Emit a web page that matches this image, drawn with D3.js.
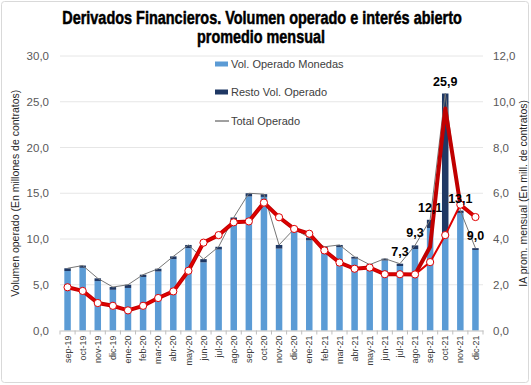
<!DOCTYPE html>
<html>
<head>
<meta charset="utf-8">
<script src="https://cdn.jsdelivr.net/npm/d3@7"></script>
<style>
  body { margin: 0; background: #fff; }
  text { font-family: "Liberation Sans", Arial, sans-serif; }
</style>
</head>
<body>
<div id="viz"></div>
<script>
// months, sep-19 .. dic-21
var months = ["sep-19","oct-19","nov-19","dic-19","ene-20","feb-20","mar-20","abr-20","may-20","jun-20","jul-20","ago-20",
  "sep-20","oct-20","nov-20","dic-20","ene-21","feb-21","mar-21","abr-21","may-21","jun-21","jul-21","ago-21",
  "sep-21","oct-21","nov-21","dic-21"];

// millions of contracts
var volMonedas = [6.5,6.85,5.4,4.45,4.65,5.85,6.45,7.8,9.0,7.45,8.85,12.0,
  14.65,14.6,8.95,10.8,9.85,8.9,9.1,7.85,7.0,7.65,7.05,8.9,
  11.2,10.3,12.85,8.8];
var restoVol = [0.3,0.25,0.3,0.3,0.35,0.25,0.3,0.3,0.35,0.35,0.3,0.35,
  0.35,0.3,0.4,0.3,0.3,0.25,0.25,0.2,0.2,0.2,0.25,0.4,
  0.9,15.6,0.25,0.2];

// interes abierto, mill. de contratos
var iaProm = [1.89,1.73,1.2,1.08,0.88,1.08,1.42,1.71,2.61,3.84,4.17,4.73,
  4.77,5.59,4.95,4.44,4.23,3.5,2.97,2.7,2.75,2.46,2.46,2.45,
  3.66,9.7,5.5,4.96];
var iaMarcado = [1.89,1.73,1.2,1.08,0.88,1.08,1.42,1.71,2.61,3.84,4.17,4.73,
  4.77,5.59,4.95,4.44,4.23,3.5,2.97,2.7,2.75,2.46,2.46,2.45,
  2.99,4.17,5.5,4.96];

var leftTicks = [0,5,10,15,20,25,30];
var rightTicks = [0,2,4,6,8,10,12];
var labeled = ["jul-21","ago-21","sep-21","oct-21","nov-21","dic-21"];

var width = 531, height = 385;
var x0 = 60, x1 = 483, yb = 330.5, yt = 56;

var total = volMonedas.map(function(v, i) { return v + restoVol[i]; });

var svg = d3.select("#viz").append("svg")
  .attr("width", width)
  .attr("height", height);

svg.append("rect")
  .attr("x", 1.5).attr("y", 1.5)
  .attr("width", width - 4).attr("height", height - 4)
  .attr("rx", 3)
  .attr("fill", "#fff")
  .attr("stroke", "#d9d9d9");

var x = d3.scaleBand().domain(months).range([x0, x1]);
var yL = d3.scaleLinear().domain([0, 30]).range([yb, yt]);
var yR = d3.scaleLinear().domain([0, 12]).range([yb, yt]);

function fmt(v) { return d3.format(".1f")(v).replace(".", ","); }

// gridlines
svg.append("g").selectAll("line")
  .data(leftTicks.slice(1))
  .enter().append("line")
    .attr("x1", x0).attr("x2", x1)
    .attr("y1", function(d) { return yL(d); })
    .attr("y2", function(d) { return yL(d); })
    .attr("stroke", "#e6e6e6")
    .attr("stroke-width", 1);

// left axis
var axL = svg.append("g")
  .attr("transform", "translate(" + x0 + ",0)")
  .call(d3.axisLeft(yL).tickValues(leftTicks).tickFormat(fmt).tickSize(0).tickPadding(11));
axL.select(".domain").remove();
axL.selectAll("text").attr("font-size", 11.5).attr("fill", "#595959")
  .attr("font-family", "Liberation Sans, Arial, sans-serif");

// right axis
var axR = svg.append("g")
  .attr("transform", "translate(" + x1 + ",0)")
  .call(d3.axisRight(yR).tickValues(rightTicks).tickFormat(fmt).tickSize(0).tickPadding(10));
axR.select(".domain").remove();
axR.selectAll("text").attr("font-size", 11.5).attr("fill", "#595959")
  .attr("font-family", "Liberation Sans, Arial, sans-serif");

// bars
var bw = 6.5;
var bars = svg.append("g");
bars.selectAll("rect.mon")
  .data(months)
  .enter().append("rect")
    .attr("class", "mon")
    .attr("x", function(d) { return x(d) + x.bandwidth() / 2 - bw / 2; })
    .attr("width", bw)
    .attr("y", function(d, i) { return yL(volMonedas[i]); })
    .attr("height", function(d, i) { return yb - yL(volMonedas[i]); })
    .attr("fill", "#5b9bd5");
bars.selectAll("rect.resto")
  .data(months)
  .enter().append("rect")
    .attr("class", "resto")
    .attr("x", function(d) { return x(d) + x.bandwidth() / 2 - bw / 2; })
    .attr("width", bw)
    .attr("y", function(d, i) { return yL(total[i]); })
    .attr("height", function(d, i) { return yL(volMonedas[i]) - yL(total[i]); })
    .attr("fill", "#1f3864");

// bottom axis
var axB = svg.append("g")
  .attr("transform", "translate(0," + yb + ")")
  .call(d3.axisBottom(x).tickSize(0).tickPadding(0));
axB.select(".domain").attr("stroke", "#bfbfbf");
axB.selectAll(".tick text")
  .attr("transform", "rotate(-90)")
  .attr("text-anchor", "end")
  .attr("x", -5).attr("y", 0).attr("dy", "0.35em")
  .attr("font-size", 9).attr("fill", "#404040")
  .attr("font-family", "Liberation Sans, Arial, sans-serif");
svg.append("g").selectAll("line")
  .data(months.concat(["end"]))
  .enter().append("line")
    .attr("x1", function(d, i) { return x0 + i * x.step(); })
    .attr("x2", function(d, i) { return x0 + i * x.step(); })
    .attr("y1", yb).attr("y2", yb + 4)
    .attr("stroke", "#bfbfbf");

// total operado line
var cx = function(d, i) { return x(months[i]) + x.bandwidth() / 2; };
svg.append("path")
  .datum(total)
  .attr("fill", "none")
  .attr("stroke", "#767676")
  .attr("stroke-width", 1)
  .attr("d", d3.line().x(cx).y(function(d) { return yL(d); }));

// IA lines
svg.append("path")
  .datum(iaProm)
  .attr("fill", "none")
  .attr("stroke", "#c00000")
  .attr("stroke-width", 4)
  .attr("stroke-linejoin", "round")
  .attr("d", d3.line().x(cx).y(function(d) { return yR(d); }));
svg.append("path")
  .datum(iaMarcado)
  .attr("fill", "none")
  .attr("stroke", "#e00000")
  .attr("stroke-width", 2)
  .attr("d", d3.line().x(cx).y(function(d) { return yR(d); }));
svg.append("g").selectAll("circle")
  .data(iaMarcado)
  .enter().append("circle")
    .attr("cx", cx)
    .attr("cy", function(d) { return yR(d); })
    .attr("r", 3.6)
    .attr("fill", "#fff")
    .attr("stroke", "#e00000")
    .attr("stroke-width", 1);

// data labels
svg.append("g").selectAll("text")
  .data(labeled)
  .enter().append("text")
    .attr("x", function(d) { return x(d) + x.bandwidth() / 2; })
    .attr("y", function(d) { return yL(total[months.indexOf(d)]) - 8; })
    .attr("text-anchor", "middle")
    .attr("font-size", 12.5)
    .attr("font-weight", "bold")
    .attr("fill", "#000")
    .text(function(d) { return fmt(total[months.indexOf(d)]); });

// legend
var legend = svg.append("g").attr("transform", "translate(215,0)");
legend.append("rect").attr("x", 0).attr("y", 61.5).attr("width", 13).attr("height", 5).attr("fill", "#5b9bd5");
legend.append("rect").attr("x", 0).attr("y", 89.5).attr("width", 13).attr("height", 5).attr("fill", "#1f3864");
legend.append("line").attr("x1", 0).attr("x2", 14).attr("y1", 121).attr("y2", 121).attr("stroke", "#404040");
[["Vol. Operado Monedas", 68], ["Resto Vol. Operado", 96], ["Total Operado", 125]].forEach(function(l) {
  legend.append("text").attr("x", 16).attr("y", l[1])
    .attr("font-size", 11).attr("fill", "#404040").text(l[0]);
});

// axis titles
svg.append("text")
  .attr("transform", "translate(19," + ((yb + yt) / 2) + ") rotate(-90)")
  .attr("text-anchor", "middle")
  .attr("font-size", 10.5).attr("fill", "#262626")
  .text("Volumen operado (En millones de contratos)");
svg.append("text")
  .attr("transform", "translate(527," + ((yb + yt) / 2) + ") rotate(-90)")
  .attr("text-anchor", "middle")
  .attr("font-size", 10.5).attr("fill", "#262626")
  .text("IA prom. mensual (En mill. de contratos)");

// title: bold text squeezed horizontally to look condensed
var titleLines = [
  { text: "Derivados Financieros. Volumen operado e interés abierto", cx: 262, y: 24, w: 400 },
  { text: "promedio mensual", cx: 261, y: 43, w: 128 }
];
titleLines.forEach(function(t) {
  var g = svg.append("g");
  var tx = g.append("text")
    .attr("text-anchor", "middle")
    .attr("font-weight", "bold")
    .attr("font-size", 18)
    .attr("stroke", "#000")
    .attr("stroke-width", 0.5)
    .attr("fill", "#000")
    .text(t.text);
  var k = t.w / tx.node().getComputedTextLength();
  g.attr("transform", "translate(" + t.cx + "," + t.y + ") scale(" + k + ",1)");
});
</script>
</body>
</html>
